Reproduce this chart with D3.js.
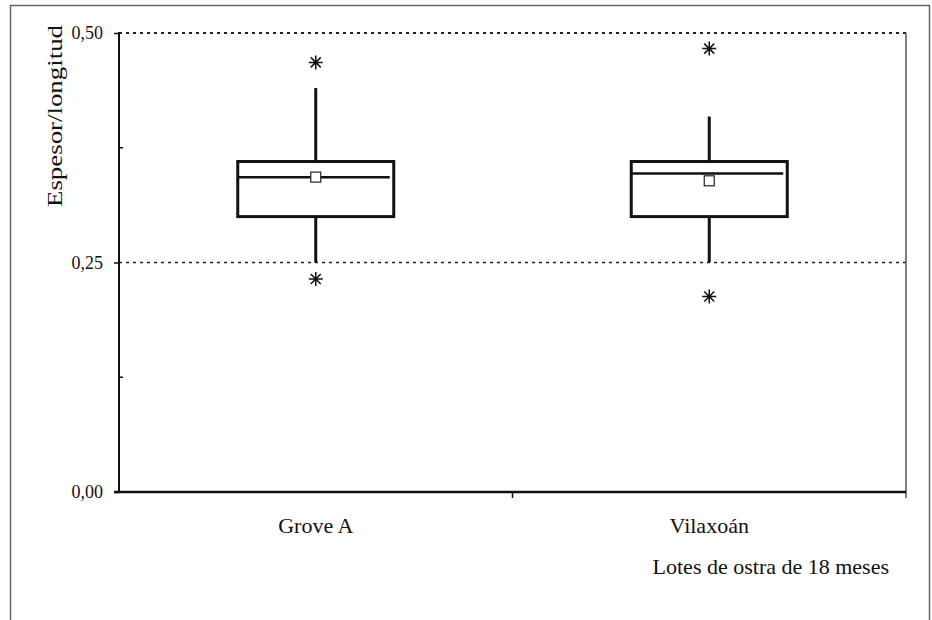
<!DOCTYPE html>
<html>
<head>
<meta charset="utf-8">
<script src="https://cdn.jsdelivr.net/npm/d3@7"></script>
<style>
  body { margin: 0; background: #fff; }
</style>
</head>
<body>
<svg id="chart" width="932" height="620"></svg>
<script>
// data
const groups = ["Grove A", "Vilaxoán"];
const q1 = [0.300, 0.300];
const q3 = [0.360, 0.360];
const medians = [0.343, 0.347];
const means = [0.343, 0.339];
const whiskerLow = [0.250, 0.250];
const whiskerHigh = [0.440, 0.409];
const outliers = [[0.468, 0.232], [0.483, 0.213]];
const yTicks = [0, 0.25, 0.5];
const yMinor = [0.125, 0.375];
const gridVals = [0.25, 0.5];

const serif = "'Liberation Serif', 'Times New Roman', Times, 'DejaVu Serif', serif";

const svg = d3.select("#chart");
const plotLeft = 119, plotRight = 906, plotTop = 33, plotBottom = 492;

// outer frame
svg.append("rect")
    .attr("x", 10.5).attr("y", 5.5)
    .attr("width", 919).attr("height", 640)
    .style("fill", "none").style("stroke", "#666").style("stroke-width", 1.5);

const x = d3.scaleBand().domain(groups).range([plotLeft, plotRight]);
const y = d3.scaleLinear().domain([0, 0.5]).range([plotBottom, plotTop]);

// dotted reference lines
svg.selectAll(".grid")
    .data(gridVals)
    .join("line")
    .attr("class", "grid")
    .attr("x1", plotLeft).attr("x2", plotRight)
    .attr("y1", d => y(d)).attr("y2", d => y(d))
    .style("stroke", "#222")
    .style("stroke-width", d => d === 0.5 ? 2 : 1.5)
    .style("stroke-dasharray", "3 4");

// right border of the plot
svg.append("line")
    .attr("x1", plotRight).attr("x2", plotRight)
    .attr("y1", plotTop).attr("y2", plotBottom + 6)
    .style("stroke", "#555").style("stroke-width", 1.5);

// y axis
const yAxis = svg.append("g")
    .attr("transform", `translate(${plotLeft},0)`)
    .call(d3.axisLeft(y).tickValues(yTicks).tickSize(5).tickPadding(11)
        .tickFormat(d => d3.format(".2f")(d).replace(".", ",")));
yAxis.attr("font-family", null).attr("font-size", null);
yAxis.select(".domain").remove();
yAxis.selectAll(".tick line").style("stroke", "#111").style("stroke-width", 1.5);
yAxis.selectAll(".tick text")
    .style("font-size", "18px")
    .style("font-family", serif)
    .style("fill", "#111");

svg.selectAll(".minor")
    .data(yMinor)
    .join("line")
    .attr("class", "minor")
    .attr("x1", plotLeft).attr("x2", plotLeft + 4)
    .attr("y1", d => y(d)).attr("y2", d => y(d))
    .style("stroke", "#111").style("stroke-width", 1.5);

svg.append("line")
    .attr("x1", plotLeft).attr("x2", plotLeft)
    .attr("y1", plotTop - 1).attr("y2", plotBottom + 1)
    .style("stroke", "#111").style("stroke-width", 2);

// x axis
svg.append("line")
    .attr("x1", plotLeft - 5).attr("x2", plotRight)
    .attr("y1", plotBottom).attr("y2", plotBottom)
    .style("stroke", "#111").style("stroke-width", 2.5);

svg.selectAll(".xtick")
    .data(groups.slice(1))
    .join("line")
    .attr("class", "xtick")
    .attr("x1", d => x(d)).attr("x2", d => x(d))
    .attr("y1", plotBottom).attr("y2", plotBottom + 6)
    .style("stroke", "#111").style("stroke-width", 1.5);

svg.selectAll(".xlabel")
    .data(groups)
    .join("text")
    .attr("class", "xlabel")
    .attr("x", d => x(d) + x.bandwidth() / 2)
    .attr("y", 533)
    .attr("text-anchor", "middle")
    .style("font-family", serif)
    .style("font-size", "22px")
    .style("fill", "#111")
    .text(d => d);

svg.append("text")
    .attr("x", 889).attr("y", 574)
    .attr("text-anchor", "end")
    .style("font-family", serif)
    .style("font-size", "22px")
    .style("fill", "#111")
    .text("Lotes de ostra de 18 meses");

svg.append("text")
    .attr("transform", "translate(62,116) rotate(-90)")
    .attr("text-anchor", "middle")
    .attr("textLength", 182)
    .attr("lengthAdjust", "spacingAndGlyphs")
    .style("font-family", serif)
    .style("font-size", "21px")
    .style("fill", "#111")
    .text("Espesor/longitud");

// boxes
const boxW = 156;
const cx = d => x(d) + x.bandwidth() / 2;
const box = svg.selectAll(".box")
    .data(groups)
    .join("g")
    .attr("class", "box");

box.append("line")
    .attr("x1", cx).attr("x2", cx)
    .attr("y1", (d, i) => y(whiskerHigh[i])).attr("y2", (d, i) => y(q3[i]))
    .style("stroke", "#111").style("stroke-width", 3);
box.append("line")
    .attr("x1", cx).attr("x2", cx)
    .attr("y1", (d, i) => y(q1[i])).attr("y2", (d, i) => y(whiskerLow[i]))
    .style("stroke", "#111").style("stroke-width", 3);
box.append("rect")
    .attr("x", d => cx(d) - boxW / 2)
    .attr("y", (d, i) => y(q3[i]))
    .attr("width", boxW)
    .attr("height", (d, i) => y(q1[i]) - y(q3[i]))
    .style("fill", "#fff").style("stroke", "#111").style("stroke-width", 3);
box.append("line")
    .attr("x1", d => cx(d) - boxW / 2).attr("x2", d => cx(d) + boxW / 2 - 4)
    .attr("y1", (d, i) => y(medians[i])).attr("y2", (d, i) => y(medians[i]))
    .style("stroke", "#111").style("stroke-width", 2.5);
box.append("rect")
    .attr("x", d => cx(d) - 5)
    .attr("y", (d, i) => y(means[i]) - 5)
    .attr("width", 10).attr("height", 10)
    .style("fill", "#fff").style("stroke", "#222").style("stroke-width", 1.2);

// outlier asterisks
const star = "M0,-7V7M-7,0H7M-5,-5L5,5M-5,5L5,-5";
groups.forEach((g, i) => {
    svg.selectAll(null)
        .data(outliers[i])
        .join("path")
        .attr("d", star)
        .attr("transform", d => `translate(${cx(g)},${y(d)})`)
        .style("stroke", "#111").style("stroke-width", 1.5).style("fill", "none");
});
</script>
</body>
</html>
